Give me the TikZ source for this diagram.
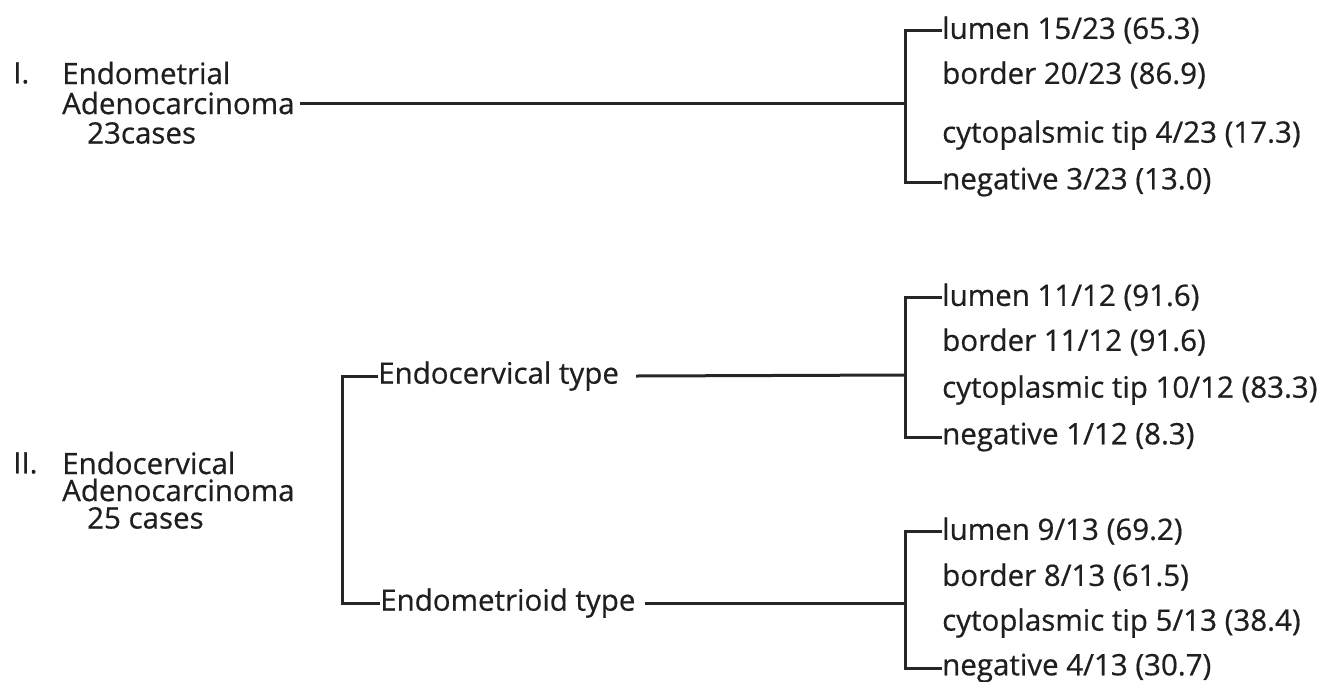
\documentclass[tikz,border=0pt]{standalone}
\usepackage{fontspec}
\setmainfont{Open Sans}[FakeBold=0.6]
\begin{document}
\begin{tikzpicture}[x=1pt,y=-1pt,
  lbl/.style={anchor=west,inner sep=0pt,font=\fontsize{29.5}{34}\selectfont,text=black!88},
  conn/.style={line width=3pt,black!85}]
\useasboundingbox (0,0) rectangle (1342,681);
% Section I
\node[lbl] (numI) at (13,73) {I.};
\node[lbl] (endI) at (62,73) {Endometrial};
\node[lbl] (adI) at (62,103) {Adenocarcinoma};
\node[lbl] (caI) at (87,133) {23cases};
\coordinate (jI) at (905,103);
\node[lbl] (lum1) at (942,30) {lumen 15/23 (65.3)};
\node[lbl] (bor1) at (942,75) {border 20/23 (86.9)};
\node[lbl] (cyt1) at (942,135) {cytopalsmic tip 4/23 (17.3)};
\node[lbl] (neg1) at (942,182) {negative 3/23 (13.0)};
\draw[conn] ([xshift=5pt]adI.east) -- (jI);
\draw[conn] (lum1.west) -| (jI) |- (neg1.west);
% Section II
\node[lbl] (numII) at (13,463) {II.};
\node[lbl] (endII) at (62,463) {Endocervical};
\node[lbl] (adII) at (62,490) {Adenocarcinoma};
\node[lbl] (caII) at (87,518) {25 cases};
\coordinate (jL) at (342,490);
\node[lbl] (ecT) at (378,376) {Endocervical type};
\node[lbl] (emT) at (380,603) {Endometrioid type};
\draw[conn] (ecT.west) -| (jL) |- (emT.west);
\coordinate (jA) at (905,375);
\coordinate (jB) at (905,603);
\draw[conn] ([xshift=17pt]ecT.east) -- (jA);
\draw[conn] ([xshift=9pt]emT.east) -- (jB);
\node[lbl] (lum2) at (942,297) {lumen 11/12 (91.6)};
\node[lbl] (bor2) at (942,342) {border 11/12 (91.6)};
\node[lbl] (cyt2) at (942,390) {cytoplasmic tip 10/12 (83.3)};
\node[lbl] (neg2) at (942,437) {negative 1/12 (8.3)};
\draw[conn] (lum2.west) -| (jA) |- (neg2.west);
\node[lbl] (lum3) at (942,531) {lumen 9/13 (69.2)};
\node[lbl] (bor3) at (942,577) {border 8/13 (61.5)};
\node[lbl] (cyt3) at (942,623) {cytoplasmic tip 5/13 (38.4)};
\node[lbl] (neg3) at (942,668) {negative 4/13 (30.7)};
\draw[conn] (lum3.west) -| (jB) |- (neg3.west);
\end{tikzpicture}
\end{document}
